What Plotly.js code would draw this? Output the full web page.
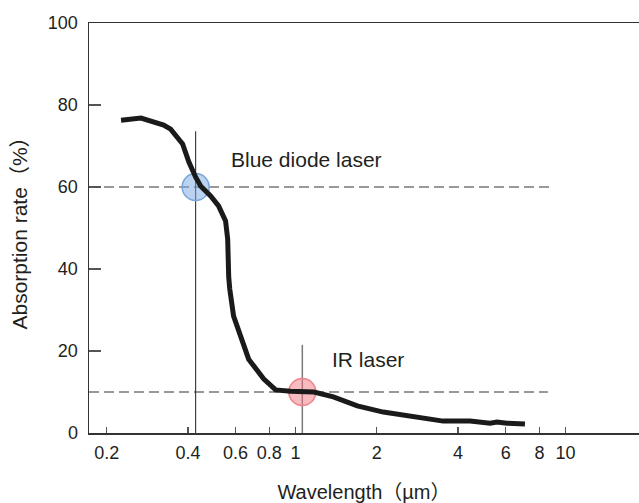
<!DOCTYPE html>
<html>
<head>
<meta charset="utf-8">
<script src="https://cdn.plot.ly/plotly-3.0.1.min.js"></script>
<style>html,body{margin:0;padding:0;background:#fff;}#chart{width:639px;height:503px;}</style>
</head>
<body>
<div id="chart"></div>
<script>
// Absorption curve (wavelength in µm, absorption rate in %)
const wavelength = [0.226, 0.268, 0.325, 0.345, 0.382, 0.403, 0.427, 0.446, 0.485, 0.519, 0.551, 0.561, 0.566, 0.566, 0.571, 0.590, 0.626, 0.671, 0.762, 0.844, 0.958, 1.17, 1.381, 1.694, 2.114, 2.823, 3.522, 4.431, 5.253, 5.576, 6.071, 7.072];
const absorption = [76.3, 76.8, 75.1, 74.1, 70.5, 66.1, 62.4, 60.2, 57.8, 55.4, 51.7, 47.3, 38.0, 36.3, 35.1, 28.5, 23.7, 18.0, 13.2, 10.5, 10.2, 10.0, 8.8, 6.6, 5.1, 3.7, 2.9, 2.9, 2.4, 2.7, 2.4, 2.2];

// Laser markers
const laserNames = ["Blue diode laser", "IR laser"];
const laserWavelength = [0.427, 1.06];
const laserAbsorption = [60, 10];
const laserLineTop = [73.6, 21.5];
const refLineEnd = [8.98, 8.6];
const axisStart = 0.172;

// Tick labels
const xTickVals = [0.2, 0.4, 0.6, 0.8, 1, 2, 4, 6, 8, 10];
const xTickText = ["0.2", "0.4", "0.6", "0.8", "1", "2", "4", "6", "8", "10"];
const yTickVals = [0, 20, 40, 60, 80, 100];

const FONT = "'Liberation Sans', Arial, 'Noto Sans CJK JP', sans-serif";
const TXT = "#231f20";

const traces = [];
// horizontal dashed reference lines
for (let i = 0; i < 2; i++) {
  traces.push({
    x: [axisStart, refLineEnd[i]], y: [laserAbsorption[i], laserAbsorption[i]],
    mode: "lines", line: {color: "#333", width: 1, dash: "10px,5px"},
    hoverinfo: "skip", showlegend: false
  });
}
// vertical laser lines
traces.push({
  x: [laserWavelength[0], laserWavelength[0]], y: [0, laserLineTop[0]],
  mode: "lines", line: {color: "#231f20", width: 1}, hoverinfo: "skip", showlegend: false
});
traces.push({
  x: [laserWavelength[1], laserWavelength[1]], y: [0, laserLineTop[1]],
  mode: "lines", line: {color: "#777", width: 1.5}, hoverinfo: "skip", showlegend: false
});
// circles
traces.push({
  x: [laserWavelength[0]], y: [laserAbsorption[0]], mode: "markers",
  marker: {size: 27, color: "rgba(120,165,225,0.5)", line: {color: "rgb(120,165,220)", width: 1.5}},
  name: laserNames[0], showlegend: false
});
traces.push({
  x: [laserWavelength[1]], y: [laserAbsorption[1]], mode: "markers",
  marker: {size: 27, color: "rgba(240,120,130,0.5)", line: {color: "rgb(240,130,140)", width: 1.5}},
  name: laserNames[1], showlegend: false
});
// curve
traces.push({
  x: wavelength, y: absorption, mode: "lines",
  line: {color: "#1a1a1a", width: 5}, name: "Absorption", showlegend: false
});

const layout = {
  width: 639, height: 503,
  margin: {l: 89, r: 0, t: 23, b: 70},
  paper_bgcolor: "#fff", plot_bgcolor: "#fff",
  font: {family: FONT, color: TXT, size: 18},
  showlegend: false,
  xaxis: {
    type: "log", range: [Math.log10(axisStart), Math.log10(18.7)],
    tickvals: xTickVals, ticktext: xTickText,
    ticks: "inside", ticklen: 6, tickcolor: "#555", tickwidth: 1.2,
    showline: true, linecolor: "#333", linewidth: 1.5, mirror: true,
    showgrid: false, zeroline: false,
    tickfont: {family: FONT, size: 18, color: TXT},
    ticklabelstandoff: 3,
    title: {text: "Wavelength（µm）", font: {family: FONT, size: 20, color: TXT}, standoff: 24}
  },
  yaxis: {
    range: [0, 100], tickvals: yTickVals,
    ticks: "inside", ticklen: 12, tickcolor: "#555", tickwidth: 1.2,
    showline: true, linecolor: "#333", linewidth: 1.5,
    showgrid: false, zeroline: false,
    tickfont: {family: FONT, size: 18, color: TXT},
    ticklabelstandoff: 6,
    title: {text: "Absorption rate（%）", font: {family: FONT, size: 21, color: TXT}, standoff: 14}
  },
  annotations: [
    {x: Math.log10(0.5655), y: 66.6, text: laserNames[0], showarrow: false, xanchor: "left", yanchor: "middle",
     font: {family: FONT, size: 21, color: TXT}},
    {x: Math.log10(1.347), y: 18, text: laserNames[1], showarrow: false, xanchor: "left", yanchor: "middle",
     font: {family: FONT, size: 21, color: TXT}}
  ]
};

Plotly.newPlot("chart", traces, layout, {displayModeBar: false, staticPlot: true});
</script>
</body>
</html>
